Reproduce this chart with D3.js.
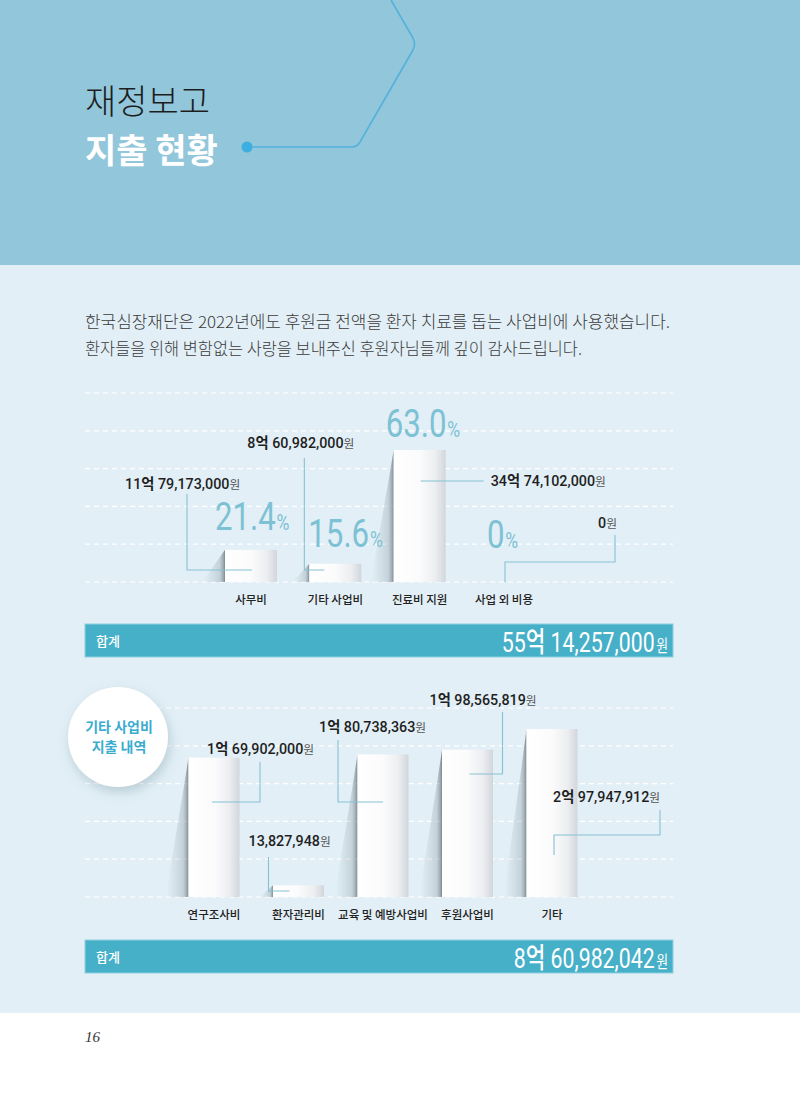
<!DOCTYPE html>
<html><head><meta charset="utf-8">
<script src="https://cdn.jsdelivr.net/npm/d3@7"></script>
<style>body{margin:0;background:#fff}svg{display:block}</style>
</head><body>
<svg id="c" width="800" height="1095"></svg>
<script>
// ---------- data ----------
const cats1 = ["사무비", "기타 사업비", "진료비 지원", "사업 외 비용"];
const amounts1 = [1179173000, 860982000, 3474102000, 0];
const pct1 = [21.4, 15.6, 63.0, 0];
const cats2 = ["연구조사비", "환자관리비", "교육 및 예방사업비", "후원사업비", "기타"];
const amounts2 = [169902000, 13827948, 180738363, 198565819, 297947912];
const gridRows = [0, 1, 2, 3, 4, 5];
const titleLines = ["재정보고", "지출 현황"];
const introLines = ["한국심장재단은 2022년에도 후원금 전액을 환자 치료를 돕는 사업비에 사용했습니다.",
                    "환자들을 위해 변함없는 사랑을 보내주신 후원자님들께 깊이 감사드립니다."];
const badgeLines = ["기타 사업비", "지출 내역"];
const totalLabel = "합계";
const pageNo = "16";

// ---------- helpers ----------
const FONT = "Roboto, 'Noto Sans CJK KR', sans-serif";
const KFONT = "'Noto Sans CJK KR', 'Noto Sans', sans-serif";
function splitWon(v) {
  const eok = Math.floor(v / 1e8), rest = v % 1e8;
  return { eok: eok > 0 ? String(eok) : null, rest: d3.format(",")(rest) };
}
const fmtPct = v => v === 0 ? "0" : v.toFixed(1);

const svg = d3.select("#c");
const defs = svg.append("defs");
const bg = defs.append("linearGradient").attr("id", "barGrad").attr("x1", 0).attr("x2", 1).attr("y1", 0).attr("y2", 0);
[[0, "#ffffff"], [0.5, "#fbfbfc"], [0.8, "#eceef1"], [1, "#d2d6db"]].forEach(s => bg.append("stop").attr("offset", s[0]).attr("stop-color", s[1]));
const sg = defs.append("linearGradient").attr("id", "shGrad").attr("x1", 0).attr("x2", 1).attr("y1", 0).attr("y2", 0);
[[0, "#8a9aa6", 0], [0.75, "#7d8d98", 0.3], [0.93, "#5f6b74", 0.55], [1, "#4f5a62", 0.7]].forEach(s => sg.append("stop").attr("offset", s[0]).attr("stop-color", s[1]).attr("stop-opacity", s[2]));
const f = defs.append("filter").attr("id", "drop").attr("x", "-40%").attr("y", "-40%").attr("width", "180%").attr("height", "180%");
f.append("feDropShadow").attr("dx", 2).attr("dy", 5).attr("stdDeviation", 6).attr("flood-color", "#6a8a99").attr("flood-opacity", 0.35);

// ---------- backgrounds ----------
svg.append("rect").attr("x", 0).attr("y", 0).attr("width", 800).attr("height", 265).attr("fill", "#92c6da");
svg.append("rect").attr("x", 0).attr("y", 265).attr("width", 800).attr("height", 748).attr("fill", "#e2eff6");

// header decoration
svg.append("path").attr("d", "M247,147 H352 Q357,147 360,142 L413,50 Q416,44 413,38 L391,0")
  .attr("fill", "none").attr("stroke", "#52b2dc").attr("stroke-width", 1.6);
svg.append("circle").attr("cx", 247).attr("cy", 147).attr("r", 5.5).attr("fill", "#3daee0");

svg.append("text").attr("x", 85).attr("y", 114).attr("font-family", KFONT).attr("font-size", 34)
  .attr("font-weight", 300).attr("fill", "#1d1d1d").text(titleLines[0]);
svg.append("text").attr("x", 85).attr("y", 163).attr("font-family", KFONT).attr("font-size", 34)
  .attr("font-weight", 700).attr("fill", "#ffffff").text(titleLines[1]);

// intro
svg.append("text").attr("x", 85).attr("y", 328).attr("font-family", KFONT).attr("font-size", 16.5)
  .attr("font-weight", 300).attr("fill", "#3b3b3b").attr("textLength", 585).attr("lengthAdjust", "spacingAndGlyphs").text(introLines[0]);
svg.append("text").attr("x", 85).attr("y", 355).attr("font-family", KFONT).attr("font-size", 16.5)
  .attr("font-weight", 300).attr("fill", "#3b3b3b").attr("textLength", 497).attr("lengthAdjust", "spacingAndGlyphs").text(introLines[1]);

// ---------- generic drawers ----------
function grid(yScale) {
  svg.append("g").selectAll("line").data(gridRows).join("line")
    .attr("x1", 85).attr("x2", 673).attr("y1", d => yScale(d)).attr("y2", d => yScale(d))
    .attr("stroke", "#ffffff").attr("stroke-width", 1.2).attr("stroke-dasharray", "5,4");
}
function bars(data, x, y, base, bw) {
  const g = svg.append("g");
  data.forEach((v, i) => {
    const cx = x(i), top = y(v), h = base - top;
    if (h <= 0) return;
    const sw = Math.min(22, 6 + h * 0.55);
    const x0 = cx - bw / 2;
    g.append("path").attr("d", `M${x0},${top} Q${x0 - sw * 0.35},${top + h * 0.35} ${x0 - sw},${base - h * 0.05} L${x0 - sw},${base} L${x0},${base} Z`)
      .attr("fill", "url(#shGrad)");
    g.append("rect").attr("x", x0).attr("y", top).attr("width", bw).attr("height", h).attr("fill", "url(#barGrad)");
  });
}
function amountLabel(x, yb, v, size) {
  const t = svg.append("text").attr("x", x).attr("y", yb).attr("font-family", FONT).attr("font-size", size)
    .attr("font-weight", 500).attr("fill", "#1f1f1f");
  const p = splitWon(v);
  if (p.eok) { t.append("tspan").text(p.eok); t.append("tspan").attr("font-weight", 700).text("억 "); }
  t.append("tspan").text(p.rest);
  t.append("tspan").attr("font-size", size * 0.82).attr("font-weight", 400).attr("fill", "#555").text("원");
}
function leader(pts) {
  svg.append("path").attr("d", d3.line()(pts)).attr("fill", "none").attr("stroke", "#86c2d2").attr("stroke-width", 1.1);
}
function catLabels(cats, x, yb) {
  svg.append("g").selectAll("text").data(cats).join("text")
    .attr("x", (d, i) => x(i)).attr("y", yb).attr("text-anchor", "middle")
    .attr("font-family", KFONT).attr("font-size", 11.5).attr("font-weight", 500).attr("fill", "#222").text(d => d);
}
function totalBar(y, value) {
  svg.append("rect").attr("x", 85).attr("y", y).attr("width", 588).attr("height", 33)
    .attr("fill", "#47b0c9").attr("stroke", "#8fd0df").attr("stroke-width", 1);
  svg.append("text").attr("x", 96).attr("y", y + 22).attr("font-family", KFONT).attr("font-size", 13)
    .attr("font-weight", 500).attr("fill", "#fff").text(totalLabel);
  const p = splitWon(value);
  const t = svg.append("text").attr("transform", `translate(668,${y + 28}) scale(0.76,1)`).attr("text-anchor", "end")
    .attr("font-family", FONT).attr("font-size", 28).attr("font-weight", 400).attr("fill", "#fff");
  if (p.eok) { t.append("tspan").text(p.eok); t.append("tspan").attr("font-weight", 500).text("억 "); }
  t.append("tspan").text(p.rest);
  t.append("tspan").attr("font-size", 17).attr("dx", 2).text("원");
}

// ---------- chart 1 ----------
const B1 = 582;
const x1 = d3.scalePoint().domain(d3.range(cats1.length)).range([251, 504]);
const y1 = d3.scaleLinear().domain([8, d3.max(pct1)]).range([B1, 450]).clamp(true);
const g1 = d3.scaleLinear().domain([0, 5]).range([393, B1]);
grid(g1);
bars(pct1, x1, y1, B1, 52);

const pctPos = [[-36, -52], [-27, -35], [-34, -145], [-17, -34]];
pct1.forEach((v, i) => {
  const t = svg.append("text").attr("transform", `translate(${x1(i) + pctPos[i][0]},${B1 + pctPos[i][1]}) scale(0.8,1)`)
    .attr("font-family", FONT).attr("font-size", 39).attr("font-weight", 400).attr("fill", "#7cc1d4");
  t.append("tspan").text(fmtPct(v));
  t.append("tspan").attr("font-size", 22).attr("dx", 1).text("%");
});

const amtPos1 = [[-126, -93], [-88, -134], [71, -96], [94, -54]];
amounts1.forEach((v, i) => amountLabel(x1(i) + amtPos1[i][0], B1 + amtPos1[i][1], v, 14.3));
{
  const c = i => x1(i);
  leader([[c(0) - 64, B1 - 88], [c(0) - 64, B1 - 12], [c(0) + 1, B1 - 12]]);
  leader([[c(1) - 31, B1 - 124], [c(1) - 31, B1 - 12], [c(1) - 11, B1 - 12]]);
  leader([[c(2) + 1, B1 - 101], [c(2) + 64, B1 - 101]]);
  leader([[c(3) + 111, B1 - 47], [c(3) + 111, B1 - 20], [c(3) + 1, B1 - 20], [c(3) + 1, B1]]);
}
catLabels(cats1, x1, 604);
totalBar(624, d3.sum(amounts1));

// ---------- chart 2 ----------
const B2 = 897;
const x2 = d3.scalePoint().domain(d3.range(cats2.length)).range([214, 552]);
const y2 = d3.scaleLog().domain([11e6, d3.max(amounts2)]).range([B2, 729]).clamp(true);
const g2 = d3.scaleLinear().domain([0, 5]).range([708, B2]);
grid(g2);
bars(amounts2, x2, y2, B2, 51);

const amtPos2 = [[-7, -143], [-50, -51], [-64, -165], [-38, -192], [1, -95]];
amounts2.forEach((v, i) => amountLabel(x2(i) + amtPos2[i][0], B2 + amtPos2[i][1], v, 14.3));
{
  const c = i => x2(i);
  leader([[c(0) - 2, B2 - 95], [c(0) + 46, B2 - 95], [c(0) + 46, B2 - 135]]);
  leader([[c(1) - 30, B2 - 40], [c(1) - 30, B2 - 6], [c(1) - 9, B2 - 6]]);
  leader([[c(2) - 45, B2 - 157], [c(2) - 45, B2 - 95], [c(2), B2 - 95]]);
  leader([[c(3) + 35, B2 - 185], [c(3) + 35, B2 - 123], [c(3) + 2, B2 - 123]]);
  leader([[c(4) + 108, B2 - 87], [c(4) + 108, B2 - 62], [c(4) + 2, B2 - 62], [c(4) + 2, B2 - 42]]);
}
catLabels(cats2, x2, 919);
totalBar(940, d3.sum(amounts2));

// badge
svg.append("circle").attr("cx", 118).attr("cy", 737).attr("r", 50).attr("fill", "#fff").attr("filter", "url(#drop)");
svg.append("text").attr("x", 119).attr("y", 732).attr("text-anchor", "middle").attr("font-family", KFONT)
  .attr("font-size", 14).attr("font-weight", 700).attr("fill", "#3aaccf").text(badgeLines[0]);
svg.append("text").attr("x", 119).attr("y", 752).attr("text-anchor", "middle").attr("font-family", KFONT)
  .attr("font-size", 14).attr("font-weight", 700).attr("fill", "#3aaccf").text(badgeLines[1]);

// page number
svg.append("text").attr("x", 85).attr("y", 1042).attr("font-family", "'Liberation Serif', 'DejaVu Serif', serif")
  .attr("font-style", "italic").attr("font-size", 15).attr("fill", "#333").text(pageNo);
</script>
</body></html>
